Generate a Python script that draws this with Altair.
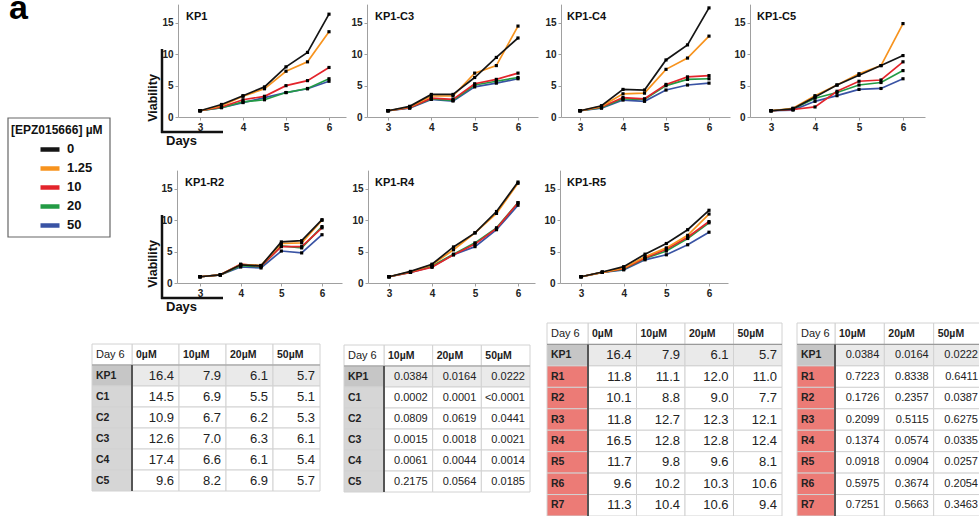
import altair as alt
import pandas as pd

# ---------------------------------------------------------------- data
DAYS = [3, 3.5, 4, 4.5, 5, 5.5, 6]
CONCS = ["0", "1.25", "10", "20", "50"]
CONC_COLORS = ["#151515", "#F7931E", "#E3242B", "#239B45", "#3953A4"]

KP1 = {
    "0": [1.0, 2.0, 3.4, 4.8, 8.0, 10.3, 16.4],
    "1.25": [1.0, 1.8, 3.3, 4.5, 7.3, 8.8, 13.6],
    "10": [1.0, 1.6, 2.75, 3.3, 5.0, 5.8, 7.9],
    "20": [1.0, 1.5, 2.4, 2.75, 3.9, 4.55, 6.1],
    "50": [1.0, 1.5, 2.3, 3.1, 3.9, 4.5, 5.7],
}
KP1_C3 = {
    "0": [1.0, 1.7, 3.6, 3.6, 6.3, 9.5, 12.6],
    "1.25": [1.0, 1.6, 3.35, 3.35, 7.0, 8.2, 14.5],
    "10": [1.0, 1.5, 3.0, 2.8, 5.3, 6.0, 7.0],
    "20": [1.0, 1.5, 2.9, 2.65, 5.1, 5.7, 6.3],
    "50": [1.0, 1.4, 2.8, 2.55, 4.8, 5.4, 6.1],
}
KP1_C4 = {
    "0": [1.0, 1.8, 4.4, 4.3, 9.1, 11.5, 17.4],
    "1.25": [1.0, 1.7, 3.7, 3.8, 7.6, 9.4, 12.9],
    "10": [1.0, 1.6, 3.1, 2.9, 5.2, 6.4, 6.6],
    "20": [1.0, 1.5, 2.9, 2.8, 5.0, 6.0, 6.1],
    "50": [1.0, 1.4, 2.7, 2.5, 4.3, 5.1, 5.4],
}
KP1_C5 = {
    "0": [1.0, 1.3, 3.2, 5.1, 6.65, 8.2, 9.8],
    "1.25": [1.0, 1.4, 3.4, 5.1, 6.9, 8.2, 14.9],
    "10": [1.0, 1.2, 1.6, 4.1, 5.7, 5.9, 8.8],
    "20": [1.0, 1.3, 3.0, 3.9, 5.1, 5.5, 7.4],
    "50": [1.0, 1.1, 2.5, 3.4, 4.4, 4.55, 6.1],
}
KP1_R2 = {
    "0": [1.0, 1.3, 2.9, 2.75, 6.55, 6.75, 10.1],
    "1.25": [1.0, 1.3, 2.95, 2.8, 6.3, 6.4, 10.0],
    "10": [1.0, 1.3, 3.0, 2.7, 5.8, 5.8, 8.8],
    "20": [1.0, 1.3, 2.75, 2.6, 5.9, 5.6, 9.0],
    "50": [1.0, 1.3, 2.55, 2.4, 5.1, 4.8, 7.7],
}
KP1_R4 = {
    "0": [1.0, 1.85, 3.0, 5.75, 8.0, 11.4, 16.1],
    "1.25": [1.0, 1.8, 2.9, 5.3, 8.0, 11.1, 15.9],
    "10": [1.0, 1.7, 2.5, 4.5, 6.2, 8.7, 12.8],
    "20": [1.0, 1.75, 2.7, 4.6, 6.4, 8.8, 12.8],
    "50": [1.0, 1.7, 2.6, 4.5, 5.8, 8.5, 12.4],
}
KP1_R5 = {
    "0": [1.0, 1.75, 2.6, 4.6, 6.3, 8.5, 11.6],
    "1.25": [1.0, 1.7, 2.4, 4.2, 5.6, 7.6, 11.0],
    "10": [1.0, 1.7, 2.3, 4.0, 5.4, 7.3, 9.8],
    "20": [1.0, 1.7, 2.2, 3.9, 5.1, 7.1, 9.6],
    "50": [1.0, 1.7, 2.1, 3.7, 4.5, 6.1, 8.1],
}

# Day-6 viability tables
VIAB_COLS = ["0µM", "10µM", "20µM", "50µM"]
P_COLS = ["10µM", "20µM", "50µM"]

CLONE_ROWS = ["KP1", "C1", "C2", "C3", "C4", "C5"]
CLONE_VIAB = [
    [16.4, 7.9, 6.1, 5.7],
    [14.5, 6.9, 5.5, 5.1],
    [10.9, 6.7, 6.2, 5.3],
    [12.6, 7.0, 6.3, 6.1],
    [17.4, 6.6, 6.1, 5.4],
    [9.6, 8.2, 6.9, 5.7],
]
CLONE_P = [
    ["0.0384", "0.0164", "0.0222"],
    ["0.0002", "0.0001", "<0.0001"],
    ["0.0809", "0.0619", "0.0441"],
    ["0.0015", "0.0018", "0.0021"],
    ["0.0061", "0.0044", "0.0014"],
    ["0.2175", "0.0564", "0.0185"],
]
RES_ROWS = ["KP1", "R1", "R2", "R3", "R4", "R5", "R6", "R7"]
RES_VIAB = [
    [16.4, 7.9, 6.1, 5.7],
    [11.8, 11.1, 12.0, 11.0],
    [10.1, 8.8, 9.0, 7.7],
    [11.8, 12.7, 12.3, 12.1],
    [16.5, 12.8, 12.8, 12.4],
    [11.7, 9.8, 9.6, 8.1],
    [9.6, 10.2, 10.3, 10.6],
    [11.3, 10.4, 10.6, 9.4],
]
RES_P = [
    ["0.0384", "0.0164", "0.0222"],
    ["0.7223", "0.8338", "0.6411"],
    ["0.1726", "0.2357", "0.0387"],
    ["0.2099", "0.5115", "0.6275"],
    ["0.1374", "0.0574", "0.0335"],
    ["0.0918", "0.0904", "0.0257"],
    ["0.5975", "0.3674", "0.2054"],
    ["0.7251", "0.5663", "0.3463"],
]

# ---------------------------------------------------------------- layout
W, H = 979, 516
FONT = "Liberation Sans"
PX_PER_UNIT = 6.27
Y_MAX = 18

# panel: left edge, px of day 3, px of day 6, right edge, y of zero, title inset
PANEL_GEOM = {
    "KP1": (178, 200, 329, 346, 117, 8),
    "KP1-C3": (367, 388, 518, 538, 117, 8),
    "KP1-C4": (561, 580, 709, 730, 117, 6),
    "KP1-C5": (750, 771, 903, 925, 117, 7),
    "KP1-R2": (177, 200, 322, 342, 283, 8),
    "KP1-R4": (368, 389, 518, 535, 283, 7),
    "KP1-R5": (560, 581, 709, 728, 283, 7),
}
PANELS = [
    ("KP1", KP1), ("KP1-C3", KP1_C3), ("KP1-C4", KP1_C4), ("KP1-C5", KP1_C5),
    ("KP1-R2", KP1_R2), ("KP1-R4", KP1_R4), ("KP1-R5", KP1_R5),
]

KINDS = ["plain", "refrow", "refhdr", "ctlhdr", "reshdr"]
KIND_FILLS = ["#FFFFFF", "#EAEAEA", "#C6C6C6", "#D6D6D6", "#EC7B76"]
FILL_SCALE = alt.Scale(domain=KINDS, range=KIND_FILLS)

COLOR_SCALE = alt.Scale(domain=CONCS, range=CONC_COLORS)
LEGEND = alt.Legend(
    title="[EPZ015666] µM", orient="none", legendX=11, legendY=125,
    symbolType="stroke", symbolStrokeWidth=4.5, symbolSize=361, clipHeight=18.75,
    symbolOffset=27, labelOffset=5, rowPadding=0, titlePadding=3, padding=0,
    labelFont=FONT, labelFontWeight="bold", labelFontSize=13, labelColor="#111",
    titleFont=FONT, titleFontWeight="bold", titleFontSize=12, titleColor="#111",
)

ONE = pd.DataFrame({"k": [0]})


def growth_panel(title, series):
    left, p3, p6, right, y0, tdx = PANEL_GEOM[title]
    ppd = (p6 - p3) / 3
    xs = alt.Scale(domain=[3 + (left - p3) / ppd, 3 + (right - p3) / ppd],
                   range=[left, right], nice=False, zero=False)
    ys = alt.Scale(domain=[0, Y_MAX], range=[y0, y0 - Y_MAX * PX_PER_UNIT],
                   nice=False, zero=False)
    recs = []
    for c in reversed(CONCS):  # black drawn last, on top
        for d, v in zip(DAYS, series[c]):
            recs.append({"day": d, "viability": v, "conc": c})
    base = alt.Chart(pd.DataFrame(recs))
    xax = alt.Axis(orient="bottom", offset=y0 - H, values=[3, 4, 5, 6],
                   title=None, format="d")
    yax = alt.Axis(orient="left", offset=-left, values=[0, 5, 10, 15], title=None)
    lines = base.mark_line(strokeWidth=1.7).encode(
        x=alt.X("day:Q", scale=xs, axis=xax),
        y=alt.Y("viability:Q", scale=ys, axis=yax),
        color=alt.Color("conc:N", scale=COLOR_SCALE, legend=LEGEND),
    )
    dots = base.mark_square(size=10, color="#000", opacity=1).encode(
        x=alt.X("day:Q", scale=xs, axis=xax),
        y=alt.Y("viability:Q", scale=ys, axis=yax),
    )
    label = alt.Chart(pd.DataFrame({"t": [title]})).mark_text(
        font=FONT, fontWeight="bold", fontSize=11, align="left",
        baseline="middle", color="#111",
    ).encode(x=alt.value(left + tdx), y=alt.value(y0 - 100), text="t:N")
    return alt.layer(lines, dots, label)


def day6_table(row_names, col_names, cells, hdr_kind, geom, value_size):
    left, sep, right, top, bottom = geom
    keys = ["hdr"] + row_names
    ys = alt.Scale(type="band", domain=keys, range=[top, bottom],
                   paddingInner=0, paddingOuter=0)
    xs = alt.Scale(type="band", domain=col_names, range=[sep, right],
                   paddingInner=0, paddingOuter=0)
    body, rowhdr = [], [{"row": "hdr", "label": "Day 6", "kind": "plain"}]
    for c in col_names:
        body.append({"row": "hdr", "col": c, "label": c, "kind": "plain", "head": 1})
    for r, vals in zip(row_names, cells):
        rowhdr.append({"row": r, "label": r,
                       "kind": "refhdr" if r == "KP1" else hdr_kind})
        for c, v in zip(col_names, vals):
            lab = v if isinstance(v, str) else f"{v:.1f}"
            body.append({"row": r, "col": c, "label": lab,
                         "kind": "refrow" if r == "KP1" else "plain", "head": 0})
    bdf, rdf = pd.DataFrame(body), pd.DataFrame(rowhdr)
    X = alt.X("col:N", scale=xs, axis=None)
    Y = alt.Y("row:N", scale=ys, axis=None)
    fill = alt.Fill("kind:N", scale=FILL_SCALE, legend=None)

    cells_l = alt.Chart(bdf).mark_rect(stroke="#D2D2D2", strokeWidth=1).encode(
        x=X, y=Y, fill=fill)
    hdr_cells = alt.Chart(rdf).mark_rect(stroke="#D2D2D2", strokeWidth=1).encode(
        x=alt.value(left), x2=alt.value(sep), y=Y, fill=fill)
    values = alt.Chart(bdf).transform_filter("datum.head == 0").mark_text(
        font=FONT, fontSize=value_size, align="right", baseline="middle",
        dx=-5, color="#222",
    ).encode(x=alt.X("col:N", scale=xs, axis=None, bandPosition=1), y=Y, text="label:N")
    col_heads = alt.Chart(bdf).transform_filter("datum.head == 1").mark_text(
        font=FONT, fontSize=10.5, fontWeight="bold", align="left",
        baseline="middle", dx=4, color="#222",
    ).encode(x=alt.X("col:N", scale=xs, axis=None, bandPosition=0), y=Y, text="label:N")
    corner = alt.Chart(rdf).transform_filter("datum.row == 'hdr'").mark_text(
        font=FONT, fontSize=11, align="left", baseline="middle", color="#222",
    ).encode(x=alt.value(left + 4), y=Y, text="label:N")
    row_heads = alt.Chart(rdf).transform_filter("datum.row != 'hdr'").mark_text(
        font=FONT, fontSize=10.5, fontWeight="bold", align="left",
        baseline="middle", color="#222",
    ).encode(x=alt.value(left + 4), y=Y, text="label:N")
    row_h = (bottom - top) / len(keys)
    underline = alt.Chart(ONE).mark_rule(color="#9A9A9A", strokeWidth=1.2).encode(
        x=alt.value(left), x2=alt.value(right),
        y=alt.value(top + row_h), y2=alt.value(top + row_h))
    divider = alt.Chart(ONE).mark_rule(color="#555555", strokeWidth=2).encode(
        x=alt.value(sep), x2=alt.value(sep),
        y=alt.value(top + row_h), y2=alt.value(bottom))
    return [cells_l, hdr_cells, underline, divider, values, col_heads, corner, row_heads]


def axis_key(y_shift):
    """The L-shaped Viability/Days key drawn beside the first panel of a row."""
    vline = alt.Chart(ONE).mark_rule(color="#111", strokeWidth=2.5).encode(
        x=alt.value(162), x2=alt.value(162),
        y=alt.value(49 + y_shift), y2=alt.value(133 + y_shift))
    hline = alt.Chart(ONE).mark_rule(color="#111", strokeWidth=2.5).encode(
        x=alt.value(161), x2=alt.value(223),
        y=alt.value(132 + y_shift), y2=alt.value(132 + y_shift))
    viab = alt.Chart(pd.DataFrame({"t": ["Viability"]})).mark_text(
        font=FONT, fontWeight="bold", fontSize=12.5, angle=270,
        align="center", baseline="middle", color="#111",
    ).encode(x=alt.value(153), y=alt.value(98 + y_shift), text="t:N")
    days = alt.Chart(pd.DataFrame({"t": ["Days"]})).mark_text(
        font=FONT, fontWeight="bold", fontSize=13, align="left",
        baseline="alphabetic", color="#111",
    ).encode(x=alt.value(166), y=alt.value(145 + y_shift), text="t:N")
    return [vline, hline, viab, days]


legend_box = alt.Chart(ONE).mark_rect(fill="white", stroke="#666", strokeWidth=1.2).encode(
    x=alt.value(8), x2=alt.value(110), y=alt.value(118), y2=alt.value(237))
panel_letter = alt.Chart(pd.DataFrame({"t": ["a"]})).mark_text(
    font=FONT, fontWeight="bold", fontSize=34, align="left",
    baseline="alphabetic", color="#000",
).encode(x=alt.value(9), y=alt.value(19), text="t:N")

layers = [legend_box, panel_letter]
layers += [growth_panel(t, s) for t, s in PANELS]
layers += axis_key(0) + axis_key(166)
layers += day6_table(CLONE_ROWS, VIAB_COLS, CLONE_VIAB, "ctlhdr", (92, 132, 320, 344, 491), 13)
layers += day6_table(CLONE_ROWS, P_COLS, CLONE_P, "ctlhdr", (344, 384, 530, 345, 492), 11)
layers += day6_table(RES_ROWS, VIAB_COLS, RES_VIAB, "reshdr", (547, 588, 782, 323, 516), 13)
layers += day6_table(RES_ROWS, P_COLS, RES_P, "reshdr", (797, 835, 983, 323, 516), 11)

chart = (
    alt.layer(*layers)
    .resolve_scale(x="independent", y="independent")
    .properties(width=W, height=H, padding=0, background="white",
                autosize=alt.AutoSizeParams(type="none"))
    .configure_view(strokeWidth=0)
    .configure_axis(
        grid=False, labelFont=FONT, labelFontWeight="bold", labelFontSize=10,
        labelColor="#222", domainColor="#A0A0A0", domainWidth=1,
        tickColor="#A0A0A0", tickSize=3, labelPadding=2,
    )
)

chart.save("out.html", embed_options={"renderer": "svg", "actions": False})
